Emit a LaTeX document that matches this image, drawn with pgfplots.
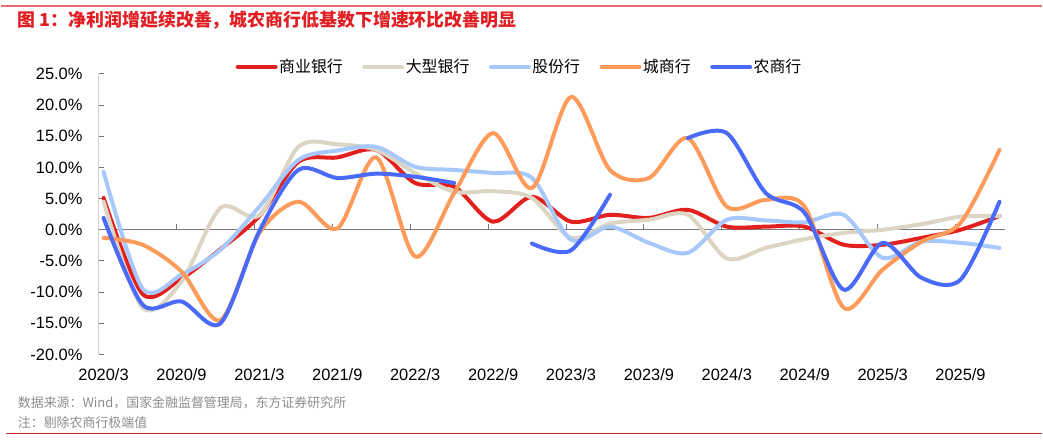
\documentclass[border=0pt]{standalone}
\usepackage{fontspec}
\setmainfont{Liberation Sans}
\newfontfamily\cjk{Noto Sans CJK SC}
\usepackage{pgfplots}
\pgfplotsset{compat=1.18}
\definecolor{cRed}{RGB}{226,32,30}
\definecolor{cBeige}{RGB}{221,213,196}
\definecolor{cLBlue}{RGB}{166,200,250}
\definecolor{cOrange}{RGB}{255,155,90}
\definecolor{cBlue}{RGB}{74,106,250}
\definecolor{cAxis}{RGB}{120,120,120}
\definecolor{cNote}{RGB}{140,140,140}
\definecolor{cTitle}{RGB}{225,30,35}
\definecolor{cTopLine}{RGB}{232,110,110}
\definecolor{cBotLine}{RGB}{200,40,40}
\begin{document}
\begin{tikzpicture}
\path (0bp,0bp) rectangle (1043bp,441bp);
\draw[cTopLine, line width=1.5bp] (0bp,435bp) -- (1043bp,435bp);
\node[anchor=west, text=cTitle, font=\cjk\bfseries\fontsize{18}{20}\selectfont, inner sep=0] at (17bp,421bp) {图 1：净利润增延续改善，城农商行低基数下增速环比改善明显};
\begin{axis}[
  at={(98bp,86bp)}, anchor=south west, scale only axis,
  width=908bp, height=281bp,
  xmin=-0.128, xmax=23.15, ymin=-20, ymax=25,
  axis line style={draw=none},
  major tick length=0pt,
  xtick={0,2,...,22},
  xticklabels={2020/3,2020/9,2021/3,2021/9,2022/3,2022/9,2023/3,2023/9,2024/3,2024/9,2025/3,2025/9},
  ytick={-20,-15,...,25},
  yticklabel={\pgfmathprintnumber[fixed,fixed zerofill,precision=1]{\tick}\%},
  /pgf/number format/assume math mode=true,
  ticklabel style={font=\fontsize{16.5}{18}\selectfont, text=black},
  yticklabel style={inner sep=0pt, anchor=east, xshift=-16bp},
  xticklabel style={inner sep=0pt, anchor=north, yshift=-14bp},
  legend columns=5,
  legend style={at={(0.464,1.025)}, anchor=center, draw=none, fill=none,
    font=\cjk\fontsize{16}{18}\selectfont,
    nodes={inner sep=1.5bp},
    /tikz/every even column/.append style={column sep=18bp}},
  legend image code/.code={\draw[#1, line width=4bp, line cap=round] (0bp,0bp) -- (38bp,0bp);},
  every axis plot/.append style={line width=4bp, line cap=round, line join=round, smooth, tension=0.5, mark=none},
]
\draw[cAxis, line width=1bp] (axis cs:-0.128,-20) -- (axis cs:-0.128,25);
\pgfplotsinvokeforeach{-20,-15,...,25}{\draw[cAxis, line width=1bp] (axis cs:-0.128,#1) -- ([xshift=5bp]axis cs:-0.128,#1);}
\draw[cAxis, line width=1bp] (axis cs:-0.128,0) -- (axis cs:23.15,0);
\pgfplotsinvokeforeach{1,...,11}{\draw[cAxis, line width=1bp] (axis cs:{-0.128+2*#1},0) -- ([yshift=6bp]axis cs:{-0.128+2*#1},0);}

\addplot[cRed] coordinates {(0,5.1)(1,-10.3)(2,-7.8)(3,-3.1)(4,2.2)(5,10.9)(6,11.6)(7,12.8)(8,7.5)(9,6.9)(10,1.3)(11,5.3)(12,1.3)(13,2.4)(14,1.9)(15,3.2)(16,0.5)(17,0.5)(18,0.5)(19,-2.4)(20,-2.4)(21,-1.3)(22,0.0)(23,2.2)};
\addlegendentry{商业银行}
\addplot[cBeige] coordinates {(0,4.5)(1,-12.5)(2,-8.3)(3,3.5)(4,2.3)(5,13.3)(6,13.7)(7,12.8)(8,9.1)(9,6.1)(10,6.2)(11,5.1)(12,-1.3)(13,1.0)(14,1.6)(15,2.4)(16,-4.6)(17,-2.9)(18,-1.5)(19,-0.5)(20,0.0)(21,0.9)(22,2.1)(23,2.2)};
\addlegendentry{大型银行}
\addplot[cLBlue] coordinates {(0,9.3)(1,-9.4)(2,-7.2)(3,-3.2)(4,3.7)(5,11.2)(6,12.7)(7,13.3)(8,10.1)(9,9.6)(10,9.1)(11,8.3)(12,-1.6)(13,0.5)(14,-2.1)(15,-3.7)(16,1.6)(17,1.5)(18,1.2)(19,2.4)(20,-4.5)(21,-1.9)(22,-2.1)(23,-2.9)};
\addlegendentry{股份行}
\addplot[cOrange] coordinates {(0,-1.3)(1,-2.4)(2,-6.7)(3,-14.5)(4,-0.5)(5,4.5)(6,0.2)(7,11.6)(8,-4.3)(9,5.9)(10,15.5)(11,6.7)(12,21.3)(13,9.6)(14,8.3)(15,14.7)(16,3.7)(17,4.8)(18,3.7)(19,-12.5)(20,-6.4)(21,-1.9)(22,1.1)(23,12.8)};
\addlegendentry{城商行}
\addplot[cBlue] coordinates {(0,1.9)(1,-12.0)(2,-11.5)(3,-15.0)(4,-0.2)(5,9.6)(6,8.3)(7,9.0)(8,8.5)(9,7.5)};
\addlegendentry{农商行}
\addplot[cBlue, forget plot] coordinates {(11,-2.2)(12,-3.3)(13,5.6)};
\addplot[cBlue, forget plot] coordinates {(15,14.7)(16,15.5)(17,5.9)(18,2.7)(19,-9.6)(20,-2.1)(21,-7.7)(22,-8.0)(23,4.5)};
\end{axis}
\node[anchor=west, text=cNote, font=\cjk\fontsize{13}{15}\selectfont, inner sep=0] at (17bp,38bp) {数据来源：Wind，国家金融监督管理局，东方证券研究所};
\node[anchor=west, text=cNote, font=\cjk\fontsize{13}{15}\selectfont, inner sep=0] at (17bp,18bp) {注：剔除农商行极端值};
\draw[cBotLine, line width=1bp] (5bp,7bp) -- (1043bp,7bp);
\end{tikzpicture}
\end{document}
